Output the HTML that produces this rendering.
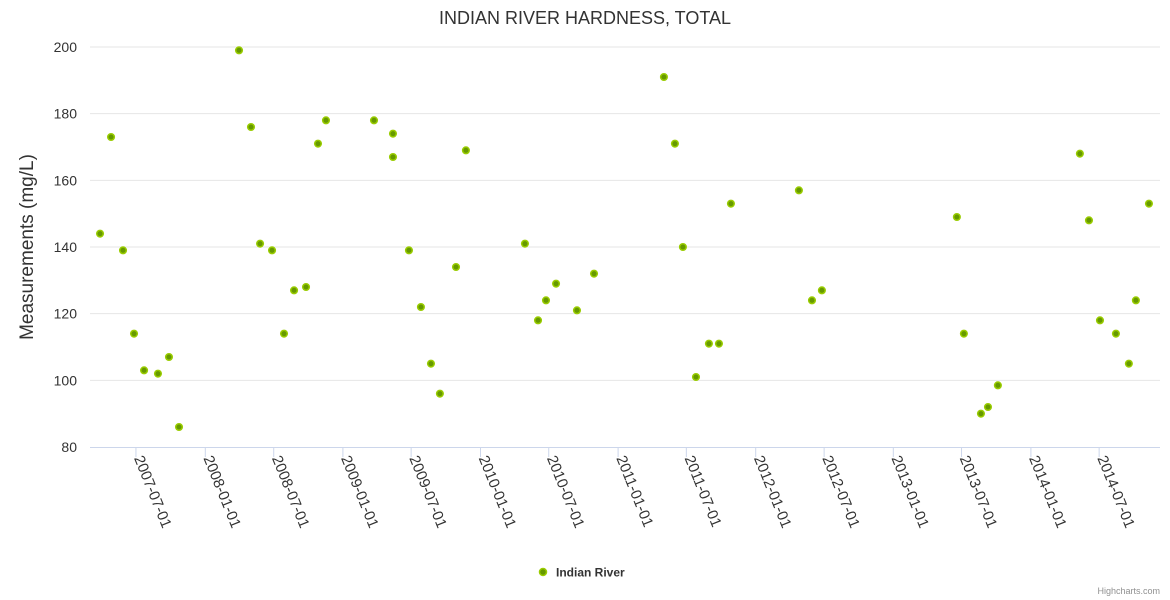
<!DOCTYPE html>
<html><head><meta charset="utf-8"><style>
html,body{margin:0;padding:0;background:#fff}
svg{display:block;font-family:"Liberation Sans",sans-serif}
</style></head><body>
<svg id="chart" width="1170" height="600" viewBox="0 0 1170 600">
<rect width="1170" height="600" fill="#fff"/>
<text x="585" y="24" text-anchor="middle" font-size="18" fill="#333">INDIAN RIVER HARDNESS, TOTAL</text>
<text transform="translate(33,247) rotate(-90)" text-anchor="middle" font-size="19" fill="#333">Measurements (mg/L)</text>
<g id="grid"></g><g id="xaxis"></g><g id="points"></g>
<g>
<circle cx="543" cy="572" r="3.5" fill="#669900" stroke="#99cc00" stroke-width="1.5"/>
<text x="556" y="576.5" font-size="12" font-weight="bold" fill="#333">Indian River</text>
</g>
<text x="1160" y="594" text-anchor="end" font-size="9" fill="#909090">Highcharts.com</text>
</svg>
<script>
const dates=[2007.235,2007.315,2007.402,2007.482,2007.555,2007.656,2007.736,2007.809,2008.245,2008.332,2008.398,2008.485,2008.572,2008.645,2008.732,2008.819,2008.877,2009.226,2009.364,2009.364,2009.480,2009.567,2009.640,2009.705,2009.822,2009.894,2010.323,2010.418,2010.476,2010.549,2010.701,2010.825,2011.333,2011.413,2011.471,2011.566,2011.660,2011.733,2011.820,2012.314,2012.409,2012.481,2013.462,2013.513,2013.637,2013.688,2013.760,2014.356,2014.422,2014.502,2014.618,2014.712,2014.763,2014.858];
const values=[144,173,139,114,103,102,107,86,199,176,141,139,114,127,128,171,178,178,174,167,139,122,105,96,134,169,141,118,124,129,121,132,191,171,140,101,111,111,153,157,124,127,149,114,90,92,98.5,168,148,118,114,105,124,153];
const yTicks=[80,100,120,140,160,180,200];
const xTickLabels=["2007-07-01","2008-01-01","2008-07-01","2009-01-01","2009-07-01","2010-01-01","2010-07-01","2011-01-01","2011-07-01","2012-01-01","2012-07-01","2013-01-01","2013-07-01","2014-01-01","2014-07-01"];
const NS="http://www.w3.org/2000/svg";
const L=90,R=1160,T=47,B=447;
function yPos(v){return B-(v-80)/(200-80)*(B-T);}
function xPos(yr){return 205.3+(yr-2008)*137.6;}
function labelYear(s){const p=s.split("-");const y=+p[0],m=+p[1];const leap=(y%4===0);const doy=m===7?(leap?182:181):0;return y+doy/(leap?366:365);}
function mk(tag,attrs,parent){const e=document.createElementNS(NS,tag);for(const k in attrs)e.setAttribute(k,attrs[k]);parent.appendChild(e);return e;}
const grid=document.getElementById('grid'),xa=document.getElementById('xaxis'),pts=document.getElementById('points');
yTicks.forEach(v=>{
  const y=yPos(v);
  if(v!==80){const g=mk('line',{x1:L,x2:R,y1:y,y2:y,stroke:'#e6e6e6','stroke-width':1},grid);
  
  }
  const t=mk('text',{x:77,y:y+5,'text-anchor':'end','font-size':14,fill:'#333'},grid);
  t.textContent=v;
  
  
});
const ax=mk('line',{x1:L,x2:R,y1:B+0.5,y2:B+0.5,stroke:'#ccd6eb','stroke-width':1},xa);


xTickLabels.forEach(s=>{
  const x=xPos(labelYear(s));
  const tk=mk('line',{x1:x,x2:x,y1:B,y2:B+10,stroke:'#ccd6eb'},xa);
  
  
  const t=mk('text',{transform:`translate(${x-2},${B+11}) rotate(68)`,'font-size':15,fill:'#333'},xa);
  t.textContent=s;
  
  
});
dates.forEach((d,i)=>{
  const c=mk('circle',{cx:xPos(d),cy:yPos(values[i]),r:3.3,fill:'#669900',stroke:'#99cc00','stroke-width':1.5},pts);
  
  
});
</script>
</body></html>
